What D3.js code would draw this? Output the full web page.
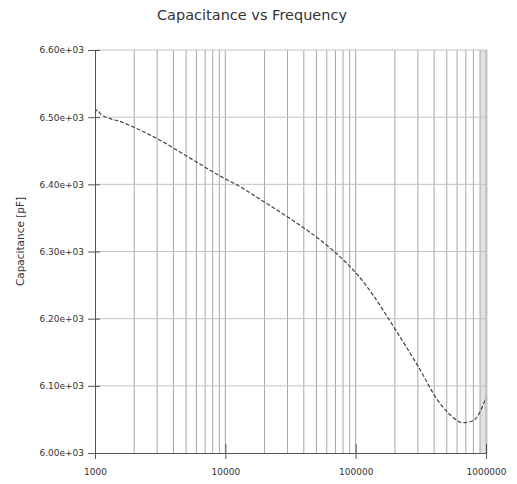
<!DOCTYPE html>
<html>
<head>
<meta charset="utf-8">
<script src="https://cdn.jsdelivr.net/npm/d3@7"></script>
<style>
  html, body { margin: 0; padding: 0; background: #fff; }
  svg { display: block; }
  text { font-family: "DejaVu Sans", sans-serif; fill: #333; }
</style>
</head>
<body>
<svg id="chart" width="517" height="484"></svg>
<script>
// Measured capacitance sweep
const frequency = [1000, 1040, 1100, 1640, 3000, 5360, 9600, 12300, 20200, 31400, 60300, 75900,
                   108000, 136000, 200000, 312000, 421000, 530000, 667000, 796000, 1000000];
const capacitance = [6507, 6511, 6505, 6492, 6468, 6439, 6410, 6399, 6373, 6349, 6309, 6292,
                     6261, 6235, 6185, 6124, 6080, 6057, 6045, 6048, 6082];

const yTicks = [6000, 6100, 6200, 6300, 6400, 6500, 6600];
const yTickLabels = ["6.00e+03", "6.10e+03", "6.20e+03", "6.30e+03", "6.40e+03", "6.50e+03", "6.60e+03"];
const xTicks = [1000, 10000, 100000, 1000000];
const xTickLabels = ["1000", "10000", "100000", "1000000"];

const titleText = "Capacitance vs Frequency";
const yTitle = "Capacitance [pF]";

const W = 517, H = 484;
const margin = { top: 50, right: 31, bottom: 31, left: 95 };
const svg = d3.select("#chart");

const x = d3.scaleLog().domain([1000, 1000000]).range([margin.left, W - margin.right]);
const y = d3.scaleLinear().domain([6000, 6600]).range([H - margin.bottom, margin.top]);

const plotTop = y(6600), plotBottom = y(6000);
const plotLeft = x(1000), plotRight = x(1000000);

// shaded strip in the last sub-decade
svg.append("rect")
  .attr("x", x(900000)).attr("y", plotTop)
  .attr("width", plotRight - x(900000) + 2).attr("height", plotBottom - plotTop)
  .attr("fill", "#e2e2e2");

// vertical grid at every log sub-division
const minor = x.ticks().filter(d => d > 1000 && d <= 1000000);
svg.append("g").selectAll("line").data(minor).join("line")
  .attr("x1", d => x(d)).attr("x2", d => x(d))
  .attr("y1", plotTop).attr("y2", plotBottom)
  .attr("stroke", "#a8a8a8").attr("stroke-width", 1);

// horizontal grid
svg.append("g").selectAll("line").data(yTicks.slice(1)).join("line")
  .attr("x1", plotLeft).attr("x2", plotRight + 1)
  .attr("y1", d => y(d)).attr("y2", d => y(d))
  .attr("stroke", "#c4c4c4").attr("stroke-width", 1);

// left axis
const yAxis = d3.axisLeft(y).tickValues(yTicks)
  .tickFormat((d, i) => yTickLabels[i]).tickSize(7).tickPadding(4);
const gy = svg.append("g").attr("transform", `translate(${plotLeft},0)`).call(yAxis);
gy.select(".domain").attr("stroke", "#555");
gy.selectAll(".tick line").attr("stroke", "#555").attr("x2", -7).attr("x1", 5);
gy.selectAll(".tick text").attr("font-size", 9).attr("fill", "#333")
  .attr("font-family", "DejaVu Sans, sans-serif");

// bottom axis
const xAxis = d3.axisBottom(x).tickValues(xTicks)
  .tickFormat((d, i) => xTickLabels[i]).tickSize(6).tickPadding(10);
const gx = svg.append("g").attr("transform", `translate(0,${plotBottom})`).call(xAxis);
gx.select(".domain").attr("stroke", "#555");
gx.selectAll(".tick line").attr("stroke", "#555").attr("y1", -9).attr("y2", 6);
gx.selectAll(".tick text").attr("font-size", 9).attr("fill", "#333")
  .attr("font-family", "DejaVu Sans, sans-serif");

// curve
const line = d3.line()
  .x((d, i) => x(frequency[i]))
  .y(d => y(d))
  .curve(d3.curveMonotoneX);
svg.append("path")
  .attr("d", line(capacitance))
  .attr("fill", "none")
  .attr("stroke", "#444")
  .attr("stroke-width", 1.2)
  .attr("stroke-dasharray", "4,2");

// titles
svg.append("text")
  .attr("x", 252).attr("y", 20)
  .attr("text-anchor", "middle")
  .attr("font-size", 14.5)
  .text(titleText);

svg.append("text")
  .attr("transform", `translate(24,${(plotTop + plotBottom) / 2 - 10}) rotate(-90)`)
  .attr("text-anchor", "middle")
  .attr("font-size", 10.5)
  .text(yTitle);
</script>
</body>
</html>
